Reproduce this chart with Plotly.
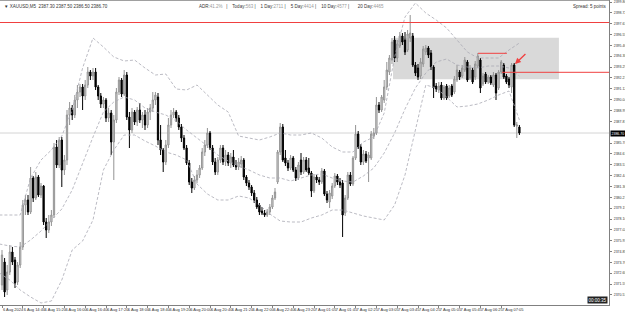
import plotly.graph_objects as go

# ---------------- data (XAUUSD, M5) ----------------
opens = [
2371.5, 2373.8, 2371.0, 2372.8, 2374.8, 2374.0, 2371.8, 2373.5, 2375.3, 2379.5,
2380.0, 2378.8, 2382.2, 2380.2, 2382.3, 2380.5, 2381.4, 2377.8, 2377.0, 2377.8,
2378.5, 2385.3, 2383.5, 2386.0, 2383.0, 2384.0, 2388.5, 2389.2, 2388.5, 2390.0,
2390.8, 2391.3, 2390.4, 2391.5, 2392.8, 2392.4, 2392.8, 2391.3, 2390.4, 2389.6,
2390.0, 2388.2, 2388.7, 2385.8, 2388.0, 2390.8, 2392.0, 2390.6, 2392.5, 2388.3,
2387.0, 2388.8, 2387.8, 2389.0, 2388.0, 2388.5, 2387.5, 2388.8, 2389.2, 2390.0,
2390.3, 2386.0, 2385.0, 2383.8, 2385.5, 2387.5, 2388.5, 2388.8, 2388.2, 2387.3,
2386.2, 2385.2, 2383.7, 2381.8, 2381.2, 2382.0, 2382.5, 2383.2, 2384.8, 2385.5,
2386.7, 2385.2, 2383.8, 2382.8, 2384.0, 2385.2, 2383.8, 2384.5, 2383.7, 2384.3,
2383.5, 2383.3, 2383.6, 2384.0, 2382.3, 2381.7, 2381.3, 2380.7, 2380.0, 2379.5,
2378.9, 2378.7, 2378.5, 2378.8, 2379.3, 2380.2, 2381.8, 2384.8, 2387.3, 2384.2,
2383.7, 2383.2, 2384.2, 2383.0, 2382.2, 2384.0, 2382.8, 2384.0, 2383.2, 2382.7,
2380.9, 2382.3, 2382.0, 2381.8, 2382.9, 2380.6, 2379.8, 2380.4, 2381.4, 2382.4,
2381.8, 2381.7, 2378.7, 2380.2, 2382.5, 2381.6, 2384.2, 2386.6, 2385.3, 2383.8,
2384.6, 2384.2, 2384.2, 2386.4, 2386.7, 2389.5, 2389.0, 2390.0, 2391.3, 2392.8,
2394.0, 2396.0, 2394.2, 2395.4, 2396.4, 2396.0, 2395.0, 2396.2, 2396.4, 2393.5,
2393.2, 2392.4, 2393.6, 2394.8, 2395.2, 2394.7, 2393.3, 2391.4, 2391.0, 2391.5,
2390.2, 2391.4, 2390.4, 2391.4, 2390.8, 2392.0, 2392.8, 2392.4, 2393.0, 2393.8,
2392.2, 2393.0, 2392.3, 2393.4, 2394.0, 2391.6, 2392.6, 2391.8, 2392.3, 2391.5,
2392.5, 2391.2, 2392.8, 2393.5, 2392.4, 2392.1, 2391.3, 2393.5, 2387.4, 2387.3,
]
highs = [
2375.0, 2374.2, 2373.5, 2375.5, 2375.3, 2374.3, 2373.8, 2375.8, 2380.0, 2380.5,
2380.5, 2383.3, 2382.4, 2382.8, 2382.5, 2381.7, 2381.5, 2378.2, 2378.5, 2379.0,
2385.7, 2386.0, 2386.3, 2386.3, 2384.5, 2389.0, 2389.8, 2389.5, 2390.5, 2391.5,
2391.6, 2391.6, 2392.0, 2393.3, 2393.0, 2393.2, 2393.2, 2391.5, 2390.7, 2390.3,
2390.2, 2389.2, 2389.0, 2388.5, 2391.2, 2392.3, 2392.2, 2393.0, 2392.8, 2388.8,
2389.2, 2389.0, 2389.3, 2389.7, 2388.8, 2389.0, 2389.2, 2389.6, 2390.8, 2390.8,
2390.7, 2387.5, 2385.2, 2386.0, 2388.2, 2389.0, 2389.2, 2389.0, 2388.5, 2387.6,
2386.5, 2385.5, 2384.0, 2382.2, 2382.4, 2383.0, 2383.5, 2385.2, 2386.0, 2387.2,
2386.9, 2385.5, 2384.2, 2384.3, 2385.5, 2385.5, 2385.0, 2384.8, 2384.7, 2385.0,
2384.0, 2384.2, 2384.4, 2384.2, 2382.5, 2382.0, 2381.5, 2381.0, 2380.3, 2379.7,
2379.3, 2379.0, 2379.1, 2379.6, 2380.5, 2381.2, 2385.0, 2387.7, 2387.6, 2385.0,
2384.0, 2384.5, 2384.4, 2383.3, 2383.8, 2384.7, 2384.3, 2384.3, 2384.2, 2382.9,
2382.6, 2382.5, 2382.3, 2383.2, 2383.1, 2380.9, 2381.0, 2381.7, 2382.7, 2382.6,
2382.2, 2382.0, 2380.5, 2382.8, 2382.8, 2384.4, 2387.5, 2386.9, 2385.6, 2385.0,
2384.9, 2384.8, 2386.9, 2387.2, 2390.3, 2389.8, 2390.5, 2392.0, 2393.8, 2394.5,
2396.2, 2396.4, 2396.0, 2396.8, 2396.7, 2396.8, 2397.0, 2398.5, 2396.7, 2393.8,
2393.6, 2394.2, 2395.4, 2395.5, 2395.4, 2395.0, 2393.5, 2391.7, 2391.8, 2391.8,
2391.5, 2391.6, 2391.5, 2391.6, 2392.4, 2393.5, 2393.0, 2393.5, 2394.3, 2394.0,
2393.5, 2393.2, 2393.9, 2394.7, 2394.2, 2392.7, 2392.8, 2392.5, 2392.5, 2392.8,
2392.7, 2393.0, 2394.0, 2393.7, 2392.6, 2392.3, 2393.7, 2393.7, 2387.8, 2387.5,
]
lows = [
2371.0, 2370.3, 2370.5, 2372.5, 2373.5, 2371.2, 2371.5, 2373.2, 2375.0, 2378.5,
2378.5, 2378.6, 2379.8, 2380.0, 2380.3, 2380.2, 2377.5, 2376.2, 2376.7, 2377.4,
2378.2, 2383.2, 2383.2, 2381.3, 2382.5, 2383.5, 2387.5, 2388.0, 2388.2, 2389.2,
2390.3, 2389.0, 2390.0, 2391.2, 2392.0, 2392.0, 2391.0, 2390.0, 2389.2, 2389.2,
2387.8, 2387.8, 2384.5, 2382.0, 2387.7, 2390.5, 2390.3, 2390.4, 2388.0, 2385.2,
2386.7, 2387.5, 2387.4, 2387.7, 2387.2, 2387.0, 2387.2, 2388.0, 2388.8, 2389.5,
2385.5, 2384.5, 2382.8, 2383.5, 2385.2, 2387.2, 2388.2, 2387.8, 2387.0, 2385.8,
2385.0, 2383.5, 2381.5, 2380.7, 2381.0, 2381.7, 2382.2, 2383.0, 2384.4, 2385.2,
2385.0, 2383.5, 2382.5, 2382.5, 2383.7, 2383.5, 2383.4, 2383.4, 2383.2, 2383.3,
2383.0, 2383.0, 2383.2, 2382.0, 2381.4, 2381.0, 2380.4, 2379.7, 2379.1, 2378.5,
2378.5, 2378.3, 2378.3, 2378.5, 2379.1, 2380.0, 2381.6, 2384.5, 2383.8, 2383.4,
2382.9, 2383.0, 2382.8, 2381.9, 2382.0, 2382.5, 2382.6, 2382.8, 2382.5, 2380.3,
2380.7, 2381.7, 2381.5, 2381.6, 2380.4, 2379.7, 2379.2, 2380.1, 2381.2, 2381.5,
2381.2, 2376.3, 2378.4, 2380.0, 2381.4, 2381.4, 2384.0, 2385.1, 2383.5, 2383.5,
2383.7, 2381.8, 2384.0, 2386.1, 2386.5, 2388.7, 2388.8, 2389.7, 2391.0, 2392.5,
2393.6, 2393.8, 2393.8, 2395.2, 2395.5, 2394.5, 2394.8, 2395.8, 2393.3, 2392.4,
2392.0, 2392.1, 2393.3, 2394.5, 2394.2, 2393.0, 2390.2, 2390.8, 2390.7, 2390.0,
2390.0, 2390.0, 2390.2, 2390.3, 2390.6, 2391.8, 2392.0, 2392.2, 2392.8, 2391.8,
2392.0, 2391.6, 2392.0, 2393.2, 2390.7, 2391.4, 2391.6, 2391.6, 2391.5, 2391.3,
2390.0, 2391.0, 2392.6, 2392.1, 2391.6, 2391.2, 2390.7, 2387.3, 2386.2, 2386.5,
]
closes = [
2374.5, 2370.8, 2372.8, 2374.8, 2373.8, 2371.7, 2373.5, 2375.3, 2379.5, 2380.0,
2378.8, 2382.2, 2380.2, 2382.3, 2380.5, 2381.4, 2377.8, 2377.0, 2377.8, 2378.5,
2385.3, 2383.5, 2386.0, 2383.0, 2384.0, 2388.5, 2389.2, 2388.5, 2390.0, 2390.8,
2391.3, 2390.4, 2391.5, 2392.8, 2392.4, 2392.8, 2391.3, 2390.4, 2389.6, 2390.0,
2388.2, 2388.7, 2385.8, 2388.0, 2390.8, 2392.0, 2390.6, 2392.5, 2388.3, 2387.0,
2388.8, 2387.8, 2389.0, 2388.0, 2388.5, 2387.5, 2388.8, 2389.2, 2390.0, 2390.5,
2386.0, 2385.0, 2383.8, 2385.5, 2387.5, 2388.5, 2388.8, 2388.2, 2387.3, 2386.2,
2385.2, 2383.7, 2381.8, 2381.2, 2382.0, 2382.5, 2383.2, 2384.8, 2385.5, 2386.7,
2385.2, 2383.8, 2382.8, 2384.0, 2385.2, 2383.8, 2384.5, 2383.7, 2384.3, 2383.5,
2383.3, 2383.8, 2384.0, 2382.3, 2381.7, 2381.3, 2380.7, 2380.0, 2379.3, 2378.8,
2378.7, 2378.5, 2378.8, 2379.3, 2380.2, 2380.8, 2384.8, 2387.3, 2384.0, 2383.7,
2383.2, 2384.2, 2383.0, 2382.2, 2383.5, 2382.8, 2384.0, 2383.0, 2382.7, 2380.9,
2382.3, 2382.0, 2381.8, 2382.9, 2380.6, 2380.0, 2380.7, 2381.4, 2382.4, 2381.8,
2381.5, 2378.5, 2380.2, 2382.5, 2381.6, 2384.2, 2386.6, 2385.3, 2383.8, 2384.6,
2383.9, 2384.5, 2386.6, 2386.7, 2389.5, 2389.0, 2390.3, 2391.3, 2393.0, 2394.2,
2395.8, 2394.2, 2395.6, 2396.4, 2395.8, 2394.8, 2396.6, 2396.7, 2393.5, 2392.7,
2392.3, 2393.8, 2395.1, 2395.2, 2394.5, 2393.3, 2391.2, 2391.1, 2391.4, 2390.2,
2391.3, 2390.2, 2391.2, 2390.5, 2392.1, 2393.0, 2392.3, 2393.2, 2394.0, 2392.0,
2393.2, 2391.8, 2393.6, 2394.4, 2391.2, 2392.4, 2391.8, 2392.3, 2391.7, 2392.5,
2390.7, 2392.8, 2393.8, 2392.3, 2391.8, 2391.5, 2393.5, 2387.5, 2387.5, 2386.7,
]
bars = list(range(len(closes)))

# Bollinger band values read at every 4th bar
band_bars = list(range(-1, 200, 4))
bb_upper = [2378.5, 2378.5, 2378.5, 2382.2, 2384.0, 2385.0, 2386.4, 2389.0, 2393.2, 2396.2,
            2395.3, 2394.3, 2393.9, 2394.0, 2393.2, 2392.5, 2392.6, 2391.1, 2391.0, 2391.5,
            2390.5, 2389.5, 2388.8, 2386.4, 2386.2, 2386.0, 2386.3, 2386.7, 2386.5, 2386.5,
            2386.7, 2386.2, 2385.3, 2384.8, 2384.8, 2385.8, 2386.3, 2388.7, 2394.3, 2398.3,
            2399.7, 2398.7, 2398.0, 2397.2, 2396.0, 2394.8, 2394.2, 2394.2, 2394.2, 2395.0,
            2395.7]
bb_middle = [2375.6, 2375.4, 2375.3, 2376.0, 2376.9, 2378.0, 2379.1, 2381.0, 2383.7, 2386.3,
             2388.8, 2389.8, 2390.3, 2390.0, 2389.2, 2388.8, 2388.5, 2387.9, 2387.0, 2386.2,
             2385.4, 2384.5, 2383.9, 2383.4, 2383.0, 2382.5, 2382.2, 2382.2, 2381.9, 2382.2,
             2382.5, 2382.6, 2382.2, 2381.9, 2381.8, 2382.4, 2383.2, 2384.7, 2386.7, 2389.1,
             2391.2, 2392.7, 2393.8, 2394.1, 2393.5, 2393.3, 2393.2, 2393.4, 2393.4, 2393.2,
             2392.4]
bb_lower = [2372.7, 2372.0, 2371.0, 2370.3, 2369.7, 2369.9, 2372.0, 2375.0, 2375.9, 2378.0,
            2383.0, 2385.0, 2386.5, 2386.5, 2385.9, 2385.4, 2384.8, 2384.5, 2384.0, 2381.6,
            2380.6, 2380.0, 2380.0, 2380.4, 2380.2, 2379.5, 2378.6, 2377.9, 2377.8, 2377.8,
            2378.2, 2378.5, 2379.0, 2379.0, 2378.7, 2378.4, 2378.2, 2378.0, 2379.5, 2382.5,
            2387.0, 2391.5, 2391.2, 2390.3, 2389.3, 2389.4, 2389.6, 2390.0, 2390.5, 2390.9,
            2388.0]

# price scale labels (the one at the bid is covered by the bid tag)
price_ticks = [2399.80, 2398.72, 2397.63, 2396.55, 2395.46, 2394.38, 2393.29, 2392.21,
               2391.12, 2390.04, 2388.95, 2387.87, 2385.70, 2384.61, 2383.53,
               2382.44, 2381.36, 2380.27, 2379.19, 2378.10, 2377.02, 2375.93, 2374.85,
               2373.76, 2372.68, 2371.59, 2370.51, 2369.42]
time_tick_bars = list(range(0, 200, 8))
time_labels = ["6 Aug 2024", "6 Aug 14:40", "6 Aug 15:20", "6 Aug 16:00", "6 Aug 16:40",
               "6 Aug 17:20", "6 Aug 18:00", "6 Aug 18:40", "6 Aug 19:20", "6 Aug 20:00",
               "6 Aug 20:40", "6 Aug 21:20", "6 Aug 22:00", "6 Aug 22:40", "6 Aug 23:20",
               "7 Aug 01:05", "7 Aug 01:45", "7 Aug 02:25", "7 Aug 03:05", "7 Aug 03:45",
               "7 Aug 04:25", "7 Aug 05:05", "7 Aug 05:45", "7 Aug 06:25", "7 Aug 07:05"]

bid = 2386.70
res_top = 2397.75          # upper red level
res_low = 2392.77          # lower red level
res_short = 2394.67        # short red level
zone = (150.4, 214.2, 2392.07, 2396.23)

FONT = "Liberation Sans"
fig = go.Figure()

band_style = dict(color="#a9aab4", width=0.8, dash="3px,2px")
fig.add_trace(go.Scatter(x=band_bars, y=bb_upper, mode="lines", line=band_style,
                         hoverinfo="skip", showlegend=False))
fig.add_trace(go.Scatter(x=band_bars, y=bb_middle, mode="lines", line=band_style,
                         hoverinfo="skip", showlegend=False))
fig.add_trace(go.Scatter(x=band_bars, y=bb_lower, mode="lines", line=band_style,
                         hoverinfo="skip", showlegend=False))

fig.add_trace(go.Candlestick(
    x=bars, open=opens, high=highs, low=lows, close=closes,
    increasing=dict(line=dict(color="#939393", width=1), fillcolor="#e2e2e2"),
    decreasing=dict(line=dict(color="#000000", width=1), fillcolor="#000000"),
    whiskerwidth=0, showlegend=False, hoverinfo="skip"))

shapes = [
    dict(type="rect", xref="x", yref="y", x0=zone[0], x1=zone[1], y0=zone[2], y1=zone[3],
         fillcolor="#d9d9d9", line=dict(width=0), layer="below"),
    dict(type="line", xref="paper", yref="y", x0=0, x1=1, y0=bid, y1=bid,
         line=dict(color="#d4d4d4", width=1), layer="below"),
    dict(type="line", xref="paper", yref="y", x0=0, x1=1, y0=res_top, y1=res_top,
         line=dict(color="#f04040", width=1)),
    dict(type="line", xref="x", yref="y", x0=192.3, x1=233.5, y0=res_low, y1=res_low,
         line=dict(color="#f04040", width=1)),
    dict(type="line", xref="x", yref="y", x0=183.1, x1=194.2, y0=res_short, y1=res_short,
         line=dict(color="#f04040", width=1)),
    dict(type="line", xref="paper", yref="paper", x0=0, x1=1, y0=1, y1=1,
         line=dict(color="#808080", width=1.5)),
]

small = dict(family=FONT, size=4.5, color="#333333")
tiny = dict(family=FONT, size=4, color="#333333")
axis_font = dict(family=FONT, size=3.5, color="#333333")
annotations = [
    dict(x=197.3, y=2393.6, ax=201.9, ay=2394.75, xref="x", yref="y", axref="x", ayref="y",
         showarrow=True, arrowhead=2, arrowsize=0.9, arrowwidth=1.3, arrowcolor="#f04040", text=""),
    dict(xref="paper", yref="paper", x=0.003, y=0.995, xanchor="left", yanchor="top",
         text="▼ XAUUSD,M5  2387.30 2387.50 2386.50 2386.70", showarrow=False, font=small),
    dict(xref="paper", yref="paper", x=197/609, y=0.995, xanchor="left", yanchor="top",
         text="ADR:<span style='color:#999'>41.2%</span>   |    Today:<span style='color:#999'>563</span> |    "
              "1 Day:<span style='color:#999'>2711</span> |    5 Day:<span style='color:#999'>4414</span> |    "
              "10 Day:<span style='color:#999'>4577</span> |       20 Day:<span style='color:#999'>4465</span>",
         showarrow=False, font=small),
    dict(xref="paper", yref="paper", x=1, y=0.995, xanchor="right", yanchor="top",
         text="Spread: 5 points", showarrow=False, font=small),
    dict(xref="paper", yref="y", x=1, y=bid, xanchor="left", yanchor="middle",
         text="2386.70", showarrow=False, bgcolor="#000000", borderpad=0.5,
         font=dict(family=FONT, size=3.5, color="#ffffff"), xshift=1),
    dict(xref="paper", yref="paper", x=0.998, y=0.0, xanchor="right", yanchor="bottom",
         text="00:00:35", showarrow=False, bgcolor="#222222", borderpad=0.5,
         font=dict(family=FONT, size=4.5, color="#ffffff"), yshift=1),
]

fig.update_layout(
    width=625, height=313, margin=dict(l=0, r=16, t=0, b=8, autoexpand=False),
    paper_bgcolor="#ffffff", plot_bgcolor="#ffffff",
    shapes=shapes, annotations=annotations, showlegend=False,
    xaxis=dict(range=[-0.77, 233.46], rangeslider=dict(visible=False), showgrid=False,
               zeroline=False, showline=True, linecolor="#808080", linewidth=1,
               tickmode="array", tickvals=time_tick_bars, ticktext=time_labels,
               ticks="outside", ticklen=2, tickcolor="#808080", tickangle=0,
               automargin=False, ticklabelposition="outside right", tickfont=tiny,
               fixedrange=True),
    yaxis=dict(range=[2369.5, 2400.0], side="right", showgrid=False, zeroline=False,
               showline=True, linecolor="#808080", linewidth=1, automargin=False,
               tickmode="array", tickvals=price_ticks,
               ticktext=[f"{v:.2f}" for v in price_ticks], ticklabelstandoff=1,
               ticks="outside", ticklen=2, tickcolor="#808080", tickfont=axis_font),
)

fig.write_html("out.html")
